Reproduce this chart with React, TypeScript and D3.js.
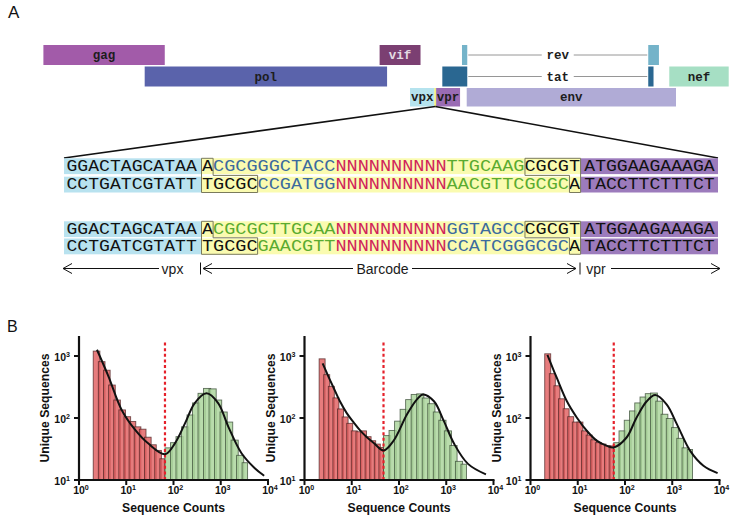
import React from 'react';
import * as d3 from 'd3';

const W = 734;
const H = 516;
const SANS = '"Liberation Sans", Arial, Helvetica, sans-serif';
const MONO = '"Liberation Mono", "Courier New", monospace';

// ---------- Panel A: genome map (schematic map units 0-1000) ----------
const geneNames = ['gag', 'vif', 'pol', 'nef', 'vpx', 'vpr', 'env'];
const geneStart = [0, 490.6, 147.8, 913.3, 535.0, 573.0, 617.7];
const geneEnd = [177.1, 550.3, 501.5, 1000, 570.5, 608.0, 923.1];
const geneRow = [0, 0, 1, 1, 2, 2, 2];
const geneColor = ['#a25ba9', '#7b3f72', '#5a63ab', '#a6dfc4', '#b5e3ee', '#9a6cb4', '#b0abd6'];
const geneLabelColor = ['#1d1d1d', '#e4dbe4', '#1d1d1d', '#1d1d1d', '#1d1d1d', '#1d1d1d', '#1d1d1d'];

const splitNames = ['rev', 'tat'];
const splitExon1 = [[610.8, 618.5], [582.1, 618.5]];
const splitExon2 = [[882.6, 898.2], [882.6, 890.3]];
const splitRow = [0, 1];
const splitColor = ['#74b3c9', '#2a6791'];

const barcodeSite = [570.5, 573.0];

// ---------- Panel A: barcode sequences ----------
const flankLeft = ['GGACTAGCATAA', 'CCTGATCGTATT', 'GGACTAGCATAA', 'CCTGATCGTATT'];
const flankRight = ['ATGGAAGAAAGA', 'TACCTTCTTTCT', 'ATGGAAGAAAGA', 'TACCTTCTTTCT'];
const midSeqs = [
  ['A', 'CGCGGGCTACC', 'NNNNNNNNNN', 'TTGCAAG', 'CGCGT'],
  ['TGCGC', 'CCGATGG', 'NNNNNNNNNN', 'AACGTTCGCGC', 'A'],
  ['A', 'CGCGCTTGCAA', 'NNNNNNNNNN', 'GGTAGCC', 'CGCGT'],
  ['TGCGC', 'GAACGTT', 'NNNNNNNNNN', 'CCATCGGGCGC', 'A'],
];
const midColors = [
  ['k', 'b', 'r', 'g', 'k'],
  ['k', 'b', 'r', 'g', 'k'],
  ['k', 'g', 'r', 'b', 'k'],
  ['k', 'g', 'r', 'b', 'k'],
];
const arrowLabels = ['vpx', 'Barcode', 'vpr'];

// ---------- Panel B: histograms ----------
const xTickExp = [0, 1, 2, 3, 4];
const yTickExp = [1, 2, 3];

const h1Edges = [2.0, 66, 3700];
const h1Red = [1200, 810, 590, 340, 195, 135, 105, 88, 72, 66, 49, 37, 30, 22];
const h1Green = [33, 40, 50, 72, 112, 175, 250, 300, 295, 195, 125, 86, 44, 25, 19];
const c1X = [2.4, 4.2, 8.0, 15.3, 29, 66, 107, 174, 282, 500, 880, 1450, 2750, 5250, 8300];
const c1Y = [1260, 470, 135, 65, 39, 26, 39, 81, 174, 250, 174, 72, 27, 15.5, 11.7];

const h2Edges = [2.04, 47, 2680];
const h2Red = [900, 500, 324, 211, 140, 104, 82, 62, 60, 62, 50, 43, 38, 33.5];
const h2Green = [52, 63, 89, 138, 198, 240, 245, 210, 170, 125, 92, 62, 36, 20, 18];
const c2X = [2.42, 3.16, 4.06, 5.62, 7.83, 10.96, 15.0, 20.9, 28.8, 47, 76.7, 148, 240, 324, 550, 891, 1479, 2884, 6918];
const c2Y = [759, 479, 316, 186, 120, 85, 63, 49, 40, 30, 43, 115, 200, 240, 186, 89, 38, 18.2, 12.3];

const h3Edges = [2.0, 57.8, 2690];
const h3Red = [1085, 519, 331, 204, 141, 105, 86, 86, 62, 53, 44.5, 40, 38, 35.5, 35.5];
const h3Green = [40, 62, 92, 130, 175, 218, 247, 253, 187, 115, 98, 70, 47, 33, 31];
const c3X = [2.28, 3.61, 5.89, 9.61, 15.7, 25.6, 41.8, 57.8, 107, 174, 288, 437, 759, 1259, 2399, 4571, 9120];
const c3Y = [1047, 442, 186, 101, 61.7, 42.7, 35.5, 33.5, 48, 100, 186, 234, 166, 79, 29.5, 17, 12.9];

const panels = [
  { edges: h1Edges, red: h1Red, green: h1Green, cx: c1X, cy: c1Y },
  { edges: h2Edges, red: h2Red, green: h2Green, cx: c2X, cy: c2Y },
  { edges: h3Edges, red: h3Red, green: h3Green, cx: c3X, cy: c3Y },
];

const SEQ_COL: Record<string, string> = { k: '#111111', b: '#3c6b9e', r: '#d0235a', g: '#5aab30' };

function GenomeMap() {
  const gx = d3.scaleLinear().domain([0, 1000]).range([43.4, 728.7]);
  const rowTop = [45, 66.5, 88];
  const rowH = [20, 20, 18.5];
  const out: React.ReactNode[] = [];
  geneNames.forEach((n, i) => {
    const r = geneRow[i];
    const x0 = gx(geneStart[i]);
    const x1 = gx(geneEnd[i]);
    out.push(<rect key={'g' + n} x={x0} y={rowTop[r]} width={x1 - x0} height={rowH[r]} fill={geneColor[i]} />);
    out.push(
      <text key={'t' + n} x={(x0 + x1) / 2} y={rowTop[r] + rowH[r] / 2 + 4} textAnchor="middle"
        fontFamily={MONO} fontWeight="bold" fontSize={12.5} fill={geneLabelColor[i]}>{n}</text>
    );
  });
  splitNames.forEach((n, i) => {
    const r = splitRow[i];
    const a0 = gx(splitExon1[i][0]), a1 = gx(splitExon1[i][1]);
    const b0 = gx(splitExon2[i][0]), b1 = gx(splitExon2[i][1]);
    const cy = rowTop[r] + rowH[r] / 2;
    const mid = (a1 + b0) / 2;
    out.push(<rect key={'e1' + n} x={a0} y={rowTop[r]} width={a1 - a0} height={rowH[r]} fill={splitColor[i]} />);
    out.push(<rect key={'e2' + n} x={b0} y={rowTop[r]} width={b1 - b0} height={rowH[r]} fill={splitColor[i]} />);
    out.push(<line key={'l1' + n} x1={a1 + 1} x2={mid - 16} y1={cy} y2={cy} stroke="#8a8a8a" strokeWidth={0.9} />);
    out.push(<line key={'l2' + n} x1={mid + 16} x2={b0 - 1} y1={cy} y2={cy} stroke="#8a8a8a" strokeWidth={0.9} />);
    out.push(
      <text key={'st' + n} x={mid} y={cy + 4} textAnchor="middle" fontFamily={MONO} fontWeight="bold"
        fontSize={12.5} fill="#1d1d1d">{n}</text>
    );
  });
  const s0 = gx(barcodeSite[0]);
  const s1 = gx(barcodeSite[1]);
  out.push(<rect key="site" x={s0} y={rowTop[2]} width={s1 - s0} height={rowH[2]} fill="#f3ee7a" />);
  const apexX = (s0 + s1) / 2;
  const apexY = rowTop[2] + rowH[2];
  out.push(<line key="z1" x1={apexX} y1={apexY} x2={64} y2={158} stroke="#111" strokeWidth={1.6} />);
  out.push(<line key="z2" x1={apexX} y1={apexY} x2={718} y2={158} stroke="#111" strokeWidth={1.6} />);
  return <g>{out}</g>;
}

function Sequences() {
  const flankL0 = 66.5, flankCW = 10.86;
  const mid0 = 202, midCW = 11.12;
  const flankR0 = 584.3;
  const bgL = 64, bgM = 201.7, bgR = 580.7, bgEnd = 718;
  const rowTops = [158.3, 176.7, 221.3, 238.5];
  const rowH = 15.8;
  const out: React.ReactNode[] = [];
  rowTops.forEach((top, r) => {
    const base = top + rowH - 3.2;
    out.push(<rect key={'bb' + r} x={bgL} y={top} width={bgM - bgL} height={rowH} fill="#b8e2ef" />);
    out.push(<rect key={'by' + r} x={bgM} y={top} width={bgR - bgM} height={rowH} fill="#fafbb0" />);
    out.push(<rect key={'bp' + r} x={bgR} y={top} width={bgEnd - bgR} height={rowH} fill="#9c7bbc" />);
    const fl = flankLeft[r];
    out.push(
      <text key={'fl' + r} x={flankL0} y={base} fontFamily={MONO} fontSize={16.5} fill="#111"
        textLength={fl.length * flankCW} lengthAdjust="spacingAndGlyphs">{fl}</text>
    );
    const fr = flankRight[r];
    out.push(
      <text key={'fr' + r} x={flankR0} y={base} fontFamily={MONO} fontSize={16.5} fill="#111"
        textLength={fr.length * flankCW} lengthAdjust="spacingAndGlyphs">{fr}</text>
    );
    let pos = 0;
    midSeqs[r].forEach((s, j) => {
      out.push(
        <text key={'m' + r + '_' + j} x={mid0 + pos * midCW} y={base} fontFamily={MONO} fontSize={16.5}
          fill={SEQ_COL[midColors[r][j]]} textLength={s.length * midCW} lengthAdjust="spacingAndGlyphs">{s}</text>
      );
      pos += s.length;
    });
  });
  // stepped boxes around overhangs
  const totalMid = midSeqs[0].reduce((a, s) => a + s.length, 0);
  const midEnd = mid0 + totalMid * midCW;
  [0, 2].forEach((r) => {
    const t = rowTops[r];
    const mTop = t + rowH + (rowTops[r + 1] - t - rowH) / 2;
    const b = rowTops[r + 1] + rowH;
    const topLeftW = midSeqs[r][0].length * midCW;
    const botLeftW = midSeqs[r + 1][0].length * midCW;
    const lx = mid0 - 0.5;
    const ptsL = [[lx, t], [mid0 + topLeftW, t], [mid0 + topLeftW, mTop], [mid0 + botLeftW, mTop], [mid0 + botLeftW, b], [lx, b]];
    const topRightW = midSeqs[r][4].length * midCW;
    const botRightW = midSeqs[r + 1][4].length * midCW;
    const rx = midEnd + 0.5;
    const ptsR = [[rx - topRightW, t], [rx, t], [rx, b], [rx - botRightW, b], [rx - botRightW, mTop], [rx - topRightW, mTop]];
    out.push(<polygon key={'pl' + r} points={ptsL.map((p) => p.join(',')).join(' ')} fill="none" stroke="#7a7a5c" strokeWidth={1} />);
    out.push(<polygon key={'pr' + r} points={ptsR.map((p) => p.join(',')).join(' ')} fill="none" stroke="#7a7a5c" strokeWidth={1} />);
  });
  // arrows
  const ay = 268.5;
  const head = (x: number, dir: number, k: string) => (
    <polyline key={k} points={`${x + dir * 9},${ay - 5} ${x},${ay} ${x + dir * 9},${ay + 5}`} fill="none" stroke="#111" strokeWidth={1} />
  );
  const ln = (x1: number, x2: number, k: string) => <line key={k} x1={x1} x2={x2} y1={ay} y2={ay} stroke="#111" strokeWidth={1} />;
  out.push(ln(63, 159, 'a1'), head(63, 1, 'h1'));
  out.push(ln(203, 353, 'a2'), head(203, 1, 'h2'));
  out.push(ln(412, 576, 'a3'), head(576, -1, 'h3'));
  out.push(ln(611, 720, 'a4'), head(720, -1, 'h4'));
  out.push(<line key="v1" x1={200.5} x2={200.5} y1={ay - 6} y2={ay + 6} stroke="#111" strokeWidth={1} />);
  out.push(<line key="v2" x1={580} x2={580} y1={ay - 6} y2={ay + 6} stroke="#111" strokeWidth={1} />);
  const labX = [172.5, 382.5, 596];
  arrowLabels.forEach((t, i) => {
    out.push(<text key={'al' + i} x={labX[i]} y={ay + 5} textAnchor="middle" fontFamily={SANS} fontSize={14} fill="#1a1a1a">{t}</text>);
  });
  return <g>{out}</g>;
}

function Pow({ x, y, e, anchor, size }: { x: number; y: number; e: number; anchor: string; size: number }) {
  return (
    <text x={x} y={y} textAnchor={anchor as any} fontFamily={SANS} fontWeight="bold" fontSize={size} fill="#111">
      10<tspan fontSize={size * 0.68} dy={-size * 0.42}>{e}</tspan>
    </text>
  );
}

function Histogram({ x0, p }: { x0: number; p: typeof panels[number] }) {
  const x = d3.scaleLog().domain([1, 1e4]).range([x0, x0 + 189]);
  const y = d3.scaleLog().domain([10, 1000]).range([480, 356]);
  const yTop = y(2100);
  const bars: React.ReactNode[] = [];
  const addBars = (vals: number[], lo: number, hi: number, fill: string, stroke: string, key: string) => {
    const l0 = Math.log10(lo), l1 = Math.log10(hi);
    const w = (l1 - l0) / vals.length;
    vals.forEach((v, i) => {
      const xa = x(Math.pow(10, l0 + i * w));
      const xb = x(Math.pow(10, l0 + (i + 1.3) * w));
      const xe = x(Math.pow(10, l0 + (i + 1) * w));
      const wd = (i === vals.length - 1 ? xe : xb) - xa;
      bars.push(
        <rect key={key + i} x={xa} y={y(v)} width={wd} height={y(10) - y(v)} fill={fill} fillOpacity={0.82}
          stroke={stroke} strokeOpacity={0.75} strokeWidth={0.9} />
      );
    });
  };
  addBars(p.red, p.edges[0], p.edges[1], '#e25f60', '#4a2020', 'r');
  addBars(p.green, p.edges[1], p.edges[2], '#a9d49a', '#334430', 'g');
  const pts = p.cx.map((v, i) => [v, p.cy[i]] as [number, number]);
  const line = d3.line<[number, number]>().x((d) => x(d[0])).y((d) => y(d[1])).curve(d3.curveCatmullRom.alpha(0.5));
  const xt = x(p.edges[1]);
  return (
    <g>
      {bars}
      <line x1={xt} x2={xt} y1={y(10)} y2={y(1750)} stroke="#e5202a" strokeWidth={2.2} strokeDasharray="3,2.6" />
      <path d={line(pts) || ''} fill="none" stroke="#111" strokeWidth={2} />
      <line x1={x0} x2={x0 + 189 + 1} y1={480} y2={480} stroke="#111" strokeWidth={2.2} />
      <line x1={x0} x2={x0} y1={yTop} y2={481} stroke="#111" strokeWidth={2.2} />
      {xTickExp.map((e) => (
        <g key={'xt' + e}>
          <line x1={x(Math.pow(10, e))} x2={x(Math.pow(10, e))} y1={480} y2={485} stroke="#111" strokeWidth={2} />
          <Pow x={x(Math.pow(10, e)) + 2} y={494} e={e} anchor="middle" size={10.5} />
        </g>
      ))}
      {yTickExp.map((e) => (
        <g key={'yt' + e}>
          <line x1={x0 - 5} x2={x0} y1={y(Math.pow(10, e))} y2={y(Math.pow(10, e))} stroke="#111" strokeWidth={2} />
          <Pow x={x0 - 9} y={y(Math.pow(10, e)) + 5} e={e} anchor="end" size={10.5} />
        </g>
      ))}
      <text x={x0 + 94.5} y={512} textAnchor="middle" fontFamily={SANS} fontWeight="bold" fontSize={12.2} fill="#111">Sequence Counts</text>
      <text transform={`translate(${x0 - 30},${(yTop + 480) / 2}) rotate(-90)`} textAnchor="middle" fontFamily={SANS}
        fontWeight="bold" fontSize={12.2} fill="#111">Unique Sequences</text>
    </g>
  );
}

export default function App() {
  const panelX = [79, 304.5, 530.5];
  return (
    <svg width={W} height={H} viewBox={`0 0 ${W} ${H}`} style={{ position: 'absolute', left: 0, top: 0, background: '#fff' }}>
      <rect x={0} y={0} width={W} height={H} fill="#fff" />
      <text x={8} y={18} fontFamily={SANS} fontSize={17} fill="#111">A</text>
      <text x={7} y={332} fontFamily={SANS} fontSize={16} fill="#111">B</text>
      <GenomeMap />
      <Sequences />
      {panels.map((p, i) => (
        <Histogram key={i} x0={panelX[i]} p={p} />
      ))}
    </svg>
  );
}
